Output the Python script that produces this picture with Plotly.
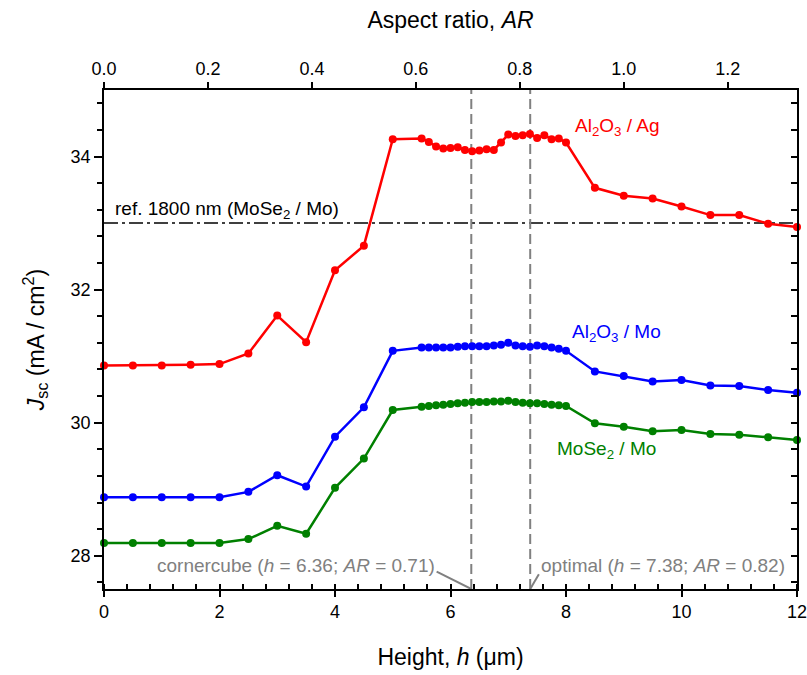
import plotly.graph_objects as go

# ---------------- data ----------------
height_um = [0, 0.5, 1, 1.5, 2, 2.5, 3, 3.5, 4, 4.5, 5,
             5.5, 5.625, 5.75, 5.875, 6, 6.125, 6.25, 6.375, 6.5, 6.625, 6.75,
             6.875, 7, 7.125, 7.25, 7.375, 7.5, 7.625, 7.75, 7.875, 8,
             8.5, 9, 9.5, 10, 10.5, 11, 11.5, 12]

jsc_al2o3_ag = [30.86, 30.86, 30.86, 30.87, 30.88, 31.04, 31.61, 31.21, 32.29, 32.66, 34.26,
                34.27, 34.22, 34.15, 34.12, 34.13, 34.14, 34.10, 34.08, 34.09, 34.11, 34.10,
                34.21, 34.33, 34.31, 34.32, 34.34, 34.28, 34.32, 34.26, 34.27, 34.21,
                33.53, 33.41, 33.37, 33.25, 33.12, 33.12, 32.99, 32.94]

jsc_al2o3_mo = [28.88, 28.88, 28.88, 28.88, 28.88, 28.96, 29.21, 29.04, 29.79, 30.23, 31.08,
                31.13, 31.13, 31.13, 31.13, 31.13, 31.14, 31.15, 31.15, 31.15, 31.15, 31.16,
                31.17, 31.20, 31.16, 31.15, 31.14, 31.16, 31.15, 31.13, 31.11, 31.08,
                30.77, 30.70, 30.62, 30.64, 30.56, 30.55, 30.49, 30.45]

jsc_mose2_mo = [28.19, 28.19, 28.19, 28.19, 28.19, 28.25, 28.45, 28.33, 29.02, 29.46, 30.19,
                30.24, 30.25, 30.26, 30.27, 30.28, 30.29, 30.30, 30.31, 30.31, 30.31, 30.32,
                30.32, 30.33, 30.31, 30.30, 30.29, 30.29, 30.28, 30.27, 30.26, 30.25,
                29.99, 29.94, 29.87, 29.89, 29.83, 29.82, 29.78, 29.74]

ref_jsc = 33.0            # ref. 1800 nm (MoSe2 / Mo)
cornercube_h = 6.36
cornercube_ar = 0.71
optimal_h = 7.38
optimal_ar = 0.82
period_um = 9.0           # AR = h / period

x_range = [0, 12]
y_range = [27.5, 35.0]

FONT = "Liberation Sans, Arial, sans-serif"
RED, BLUE, GREEN, GREY = "#FF0000", "#0000FF", "#008000", "#808080"

fig = go.Figure()

for yv, col in [(jsc_al2o3_ag, RED), (jsc_al2o3_mo, BLUE), (jsc_mose2_mo, GREEN)]:
    fig.add_trace(go.Scatter(
        x=height_um, y=yv, mode="lines+markers",
        line=dict(color=col, width=2.5),
        marker=dict(color=col, size=8),
        showlegend=False, cliponaxis=False))

# dummy traces to create top and right axes
fig.add_trace(go.Scatter(x=[None], y=[None], xaxis="x2", yaxis="y",
                         showlegend=False, hoverinfo="skip"))
fig.add_trace(go.Scatter(x=[None], y=[None], xaxis="x", yaxis="y2",
                         showlegend=False, hoverinfo="skip"))

# reference line
fig.add_shape(type="line", xref="x", yref="y", x0=x_range[0], x1=x_range[1],
              y0=ref_jsc, y1=ref_jsc,
              line=dict(color="black", width=1.5, dash="14px,4px,3px,4px"), layer="below")

# vertical dashed lines
for hv in [cornercube_h, optimal_h]:
    fig.add_shape(type="line", xref="x", yref="y", x0=hv, x1=hv,
                  y0=y_range[0], y1=y_range[1],
                  line=dict(color=GREY, width=2, dash="10px,5px"), layer="below")

# leader lines
fig.add_shape(type="line", xref="x", yref="y", x0=5.76, y0=27.76,
              x1=cornercube_h, y1=y_range[0], line=dict(color=GREY, width=2))
fig.add_shape(type="line", xref="x", yref="y", x0=7.53, y0=27.72,
              x1=optimal_h, y1=y_range[0], line=dict(color=GREY, width=2))

ann_font = dict(family=FONT, size=19)
fig.add_annotation(x=8.12, y=34.44, xref="x", yref="y", showarrow=False,
                   xanchor="left", yanchor="middle",
                   text="Al<sub>2</sub>O<sub>3</sub> / Ag", font=dict(ann_font, color=RED))
fig.add_annotation(x=8.07, y=31.35, xref="x", yref="y", showarrow=False,
                   xanchor="left", yanchor="middle",
                   text="Al<sub>2</sub>O<sub>3</sub> / Mo", font=dict(ann_font, color=BLUE))
fig.add_annotation(x=7.81, y=29.59, xref="x", yref="y", showarrow=False,
                   xanchor="left", yanchor="middle",
                   text="MoSe<sub>2</sub> / Mo", font=dict(ann_font, color=GREEN))
fig.add_annotation(x=0.15, y=33.2, xref="x", yref="y", showarrow=False,
                   xanchor="left", yanchor="middle",
                   text="ref. 1800 nm (MoSe<sub>2</sub> / Mo)", font=dict(ann_font, color="black"))
fig.add_annotation(x=5.76, y=27.86, xref="x", yref="y", showarrow=False,
                   xanchor="right", yanchor="middle",
                   text=f"cornercube (<i>h</i> = {cornercube_h}; <i>AR</i> = {cornercube_ar})",
                   font=dict(ann_font, color=GREY))
fig.add_annotation(x=7.53, y=27.86, xref="x", yref="y", showarrow=False,
                   xanchor="left", yanchor="middle",
                   text=f"optimal (<i>h</i> = {optimal_h}; <i>AR</i> = {optimal_ar})",
                   font=dict(ann_font, color=GREY))

tickfont = dict(family=FONT, size=18, color="black")
titlefont = dict(family=FONT, size=23, color="black")

fig.update_layout(
    width=807, height=675,
    margin=dict(l=104, r=10, t=90, b=86),
    paper_bgcolor="white", plot_bgcolor="white",
    font=dict(family=FONT, color="black"),
    xaxis=dict(
        range=x_range, dtick=2, tick0=0, showgrid=False, zeroline=False,
        showline=True, linecolor="black", linewidth=1.5, automargin=False,
        ticks="outside", ticklen=6, tickwidth=1.5, tickcolor="black",
        minor=dict(dtick=0.4, tick0=0, ticks="inside", ticklen=5, tickwidth=1.5,
                   tickcolor="black", showgrid=False),
        tickfont=tickfont, ticklabeloverflow="allow",
        title=dict(text="Height, <i>h</i> (μm)", font=titlefont, standoff=28),
    ),
    xaxis2=dict(
        overlaying="x", side="top", anchor="y",
        range=[x_range[0] / period_um, x_range[1] / period_um],
        dtick=0.2, tick0=0, tickformat=".1f", showgrid=False, zeroline=False,
        showline=True, linecolor="black", linewidth=1.5, automargin=False,
        ticks="outside", ticklen=6, tickwidth=1.5, tickcolor="black",
        tickfont=tickfont, ticklabeloverflow="allow",
        title=dict(text="Aspect ratio, <i>AR</i>", font=titlefont, standoff=24),
    ),
    yaxis=dict(
        range=y_range, dtick=2, tick0=0, showgrid=False, zeroline=False,
        showline=True, linecolor="black", linewidth=1.5, automargin=False,
        ticks="outside", ticklen=8, tickwidth=1.5, tickcolor="black",
        minor=dict(dtick=0.4, tick0=0, ticks="outside", ticklen=5, tickwidth=1.5,
                   tickcolor="black", showgrid=False),
        tickfont=tickfont,
        title=dict(text="<i>J</i><sub>sc</sub> (mA / cm<sup>2</sup>)", font=titlefont, standoff=20),
    ),
    yaxis2=dict(
        overlaying="y", side="right", anchor="x",
        range=y_range, dtick=2, tick0=0, showgrid=False, zeroline=False,
        showline=True, linecolor="black", linewidth=1.5, automargin=False,
        ticks="inside", ticklen=6, tickwidth=1.5, tickcolor="black",
        minor=dict(dtick=0.4, tick0=0, ticks="inside", ticklen=6, tickwidth=1.5,
                   tickcolor="black", showgrid=False),
        showticklabels=False,
    ),
)

fig.write_html("out.html")
